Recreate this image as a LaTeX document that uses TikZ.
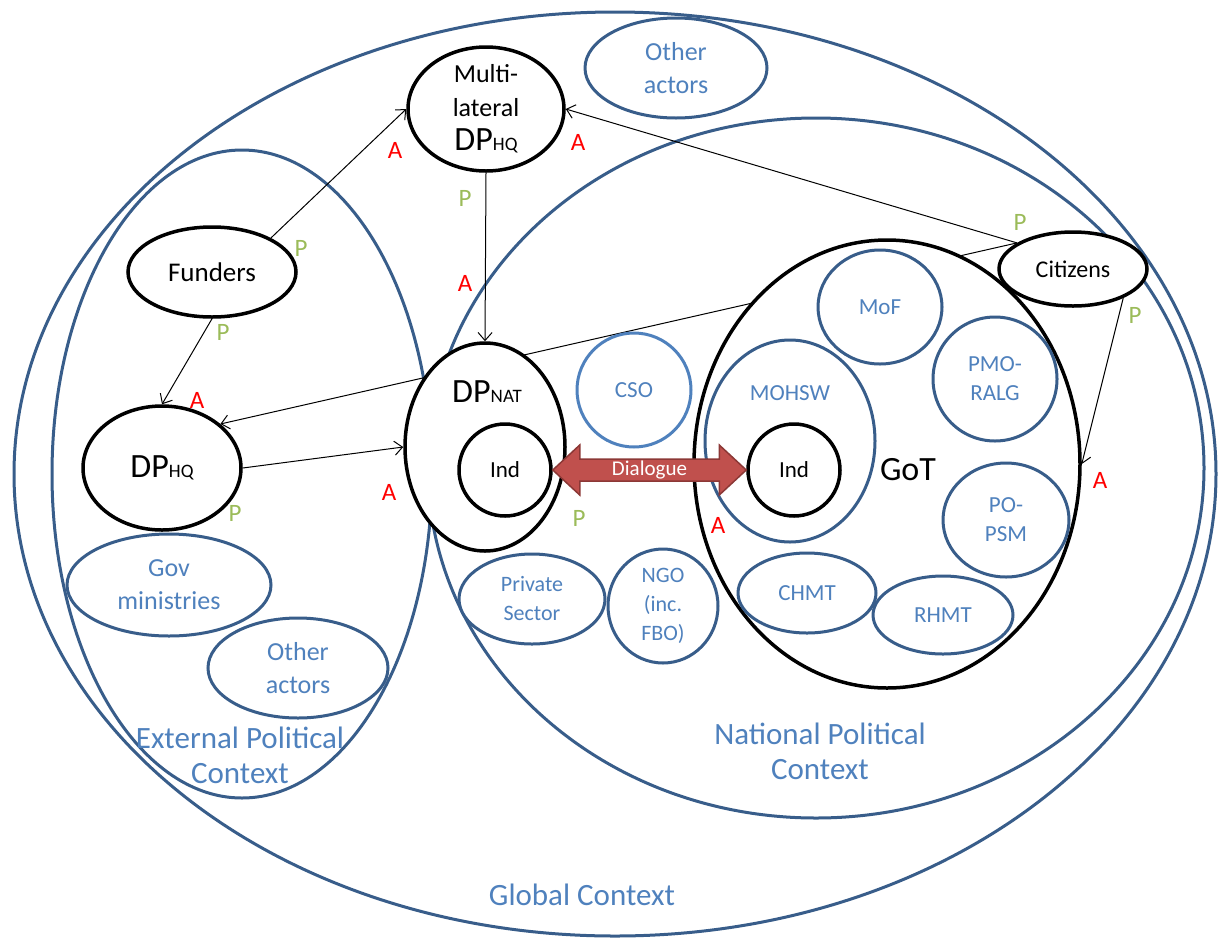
\documentclass[tikz,border=0pt]{standalone}
\usepackage{fontspec}
\setmainfont{Carlito}
\usetikzlibrary{shapes.geometric,arrows.meta,calc,backgrounds}
\definecolor{ctxblue}{HTML}{385D8A}
\definecolor{txtblue}{HTML}{4F81BD}
\definecolor{pgreen}{HTML}{9BBB59}
\definecolor{dlgfill}{HTML}{C0504D}
\definecolor{dlgdraw}{HTML}{8C3836}
\newcommand{\dpname}[1]{{\fontsize{34}{34}\selectfont DP}{\fontsize{19}{19}\selectfont #1}}

\begin{document}
\begin{tikzpicture}[x=1pt, y=-1pt, >={Straight Barb[length=8pt,width=14pt]},
  context/.style={ellipse, draw=ctxblue, line width=3pt, inner sep=0pt},
  ctxtext/.style={text=txtblue, align=center, font=\fontsize{31}{35}\selectfont},
  blackbox/.style={ellipse, draw=black, line width=3.5pt, fill=white, inner sep=0pt, align=center, font=\fontsize{22}{22}\selectfont},
  bluebox/.style={ellipse, draw=ctxblue, line width=3pt, fill=white, inner sep=0pt, text=txtblue, align=center, font=\fontsize{23}{29}\selectfont},
  conn/.style={->, line width=1pt},
  alab/.style={text=red, font=\fontsize{25}{25}\selectfont},
  plab/.style={text=pgreen, font=\fontsize{25}{25}\selectfont},
  dialogue/.style={fill=dlgfill, draw=dlgdraw, line width=1.5pt, line join=miter}]
\useasboundingbox (0,0) rectangle (1226,938);

\node (globallbl)[ctxtext] at (582,895) {Global Context};
\node (extlbl)[ctxtext] at (240,755) {External Political\\Context};
\node (natlbl)[ctxtext] at (820,751) {National Political\\Context};

\node (multi)[blackbox, minimum width=156, minimum height=124, inner sep=-6pt, font=\fontsize{26}{34}\selectfont] at (486,109) {Multi-\\lateral\\\dpname{HQ}};
\node (funders)[blackbox, minimum width=168, minimum height=90, font=\fontsize{27}{27}\selectfont] at (212,272) {Funders};
\node (dphq)[blackbox, minimum width=158, minimum height=124] at (162,468) {\dpname{HQ}};
\node (dpnat)[blackbox, minimum width=160, minimum height=208] at (485,447) {};
\node (dpnatlbl) at (487,392) {\dpname{NAT}};
\node (inda)[blackbox, circle, minimum size=92, font=\fontsize{23}{23}\selectfont] at (505,470) {Ind};
\node (citizens)[blackbox, minimum width=148, minimum height=74, font=\fontsize{24}{24}\selectfont] at (1073,269) {Citizens};
\node (got)[blackbox, minimum width=386, minimum height=448] at (887,464) {};

\node (otherb)[bluebox, minimum width=182, minimum height=100, font=\fontsize{26}{33}\selectfont] at (676,68) {Other\\actors};
\node (cso)[bluebox, circle, draw=txtblue, minimum size=114] at (634,390) {CSO};
\node (mof)[bluebox, minimum width=124, minimum height=114] at (880,307) {MoF};
\node (mohsw)[bluebox, minimum width=170, minimum height=202] at (790,441) {};
\node (mohswlbl)[text=txtblue, font=\fontsize{23}{23}\selectfont] at (790,393) {MOHSW};
\node (indb)[blackbox, circle, minimum size=92, font=\fontsize{23}{23}\selectfont] at (794,470) {Ind};
\node (pmo)[bluebox, minimum width=124, minimum height=124] at (995,379) {PMO-\\RALG};
\node (popsm)[bluebox, minimum width=126, minimum height=114] at (1006,520) {PO-\\PSM};
\node (chmt)[bluebox, minimum width=138, minimum height=80] at (807,593) {CHMT};
\node (rhmt)[bluebox, minimum width=140, minimum height=78] at (943,615) {RHMT};
\node (gotlbl)[font=\fontsize{34}{34}\selectfont] at (908,470) {GoT};
\node (govmin)[bluebox, minimum width=204, minimum height=102, font=\fontsize{26}{33}\selectfont] at (169,585) {Gov\\ministries};
\node (othera)[bluebox, minimum width=180, minimum height=100, font=\fontsize{26}{33}\selectfont] at (298,668) {Other\\actors};
\node (private)[bluebox, minimum width=146, minimum height=90, font=\fontsize{22}{29}\selectfont] at (532,599) {Private\\Sector};
\node (ngo)[bluebox, minimum width=110, minimum height=114, font=\fontsize{22}{29}\selectfont] at (663,606) {NGO\\(inc.\\FBO)};

\begin{pgfonlayer}{background}
\node (global)[context, minimum width=1202, minimum height=924] at (615,474) {};
\node (external)[context, minimum width=380, minimum height=648] at (242,474) {};
\node (national)[context, minimum width=776, minimum height=700] at (816,468) {};
\draw[conn] (funders.30) -- (multi.west);
\draw[conn] (multi.south) -- (dpnat.north);
\draw[conn] (citizens.155) -- (multi.east);
\draw[conn] (citizens.155) -- (dphq.37);
\draw[conn] (funders.south) -- (dphq.north);
\draw[conn] (dphq.east) -- (dpnat.west);
\draw[conn] (citizens.-30) -- (got.east);
\end{pgfonlayer}

\node (a1)[alab] at (395,150) {A};
\node (p1)[plab] at (301,248) {P};
\node (a2)[alab] at (578,142) {A};
\node (p2)[plab] at (465,198) {P};
\node (a3)[alab] at (465,283) {A};
\node (p3)[plab] at (1020,222) {P};
\node (p4)[plab] at (1135,315) {P};
\node (a4)[alab] at (1100,480) {A};
\node (a5)[alab] at (389,492) {A};
\node (p5)[plab] at (235,513) {P};
\node (p6)[plab] at (223,332) {P};
\node (a6)[alab] at (197,400) {A};
\node (p7)[plab] at (579,518) {P};
\node (a7)[alab] at (718,525) {A};

\draw[dialogue] (inda.east) -- ++(27,-25) -- ++(0,14) -- ($(indb.west)+(-27,-11)$) -- ++(0,-14) -- (indb.west) -- ++(-27,25) -- ++(0,-14) -- ($(inda.east)+(27,11)$) -- ++(0,14) -- cycle;
\node (dlg)[text=white, font=\fontsize{21}{21}\selectfont] at ($(inda.east)!0.5!(indb.west)$) {Dialogue};
\end{tikzpicture}
\end{document}
